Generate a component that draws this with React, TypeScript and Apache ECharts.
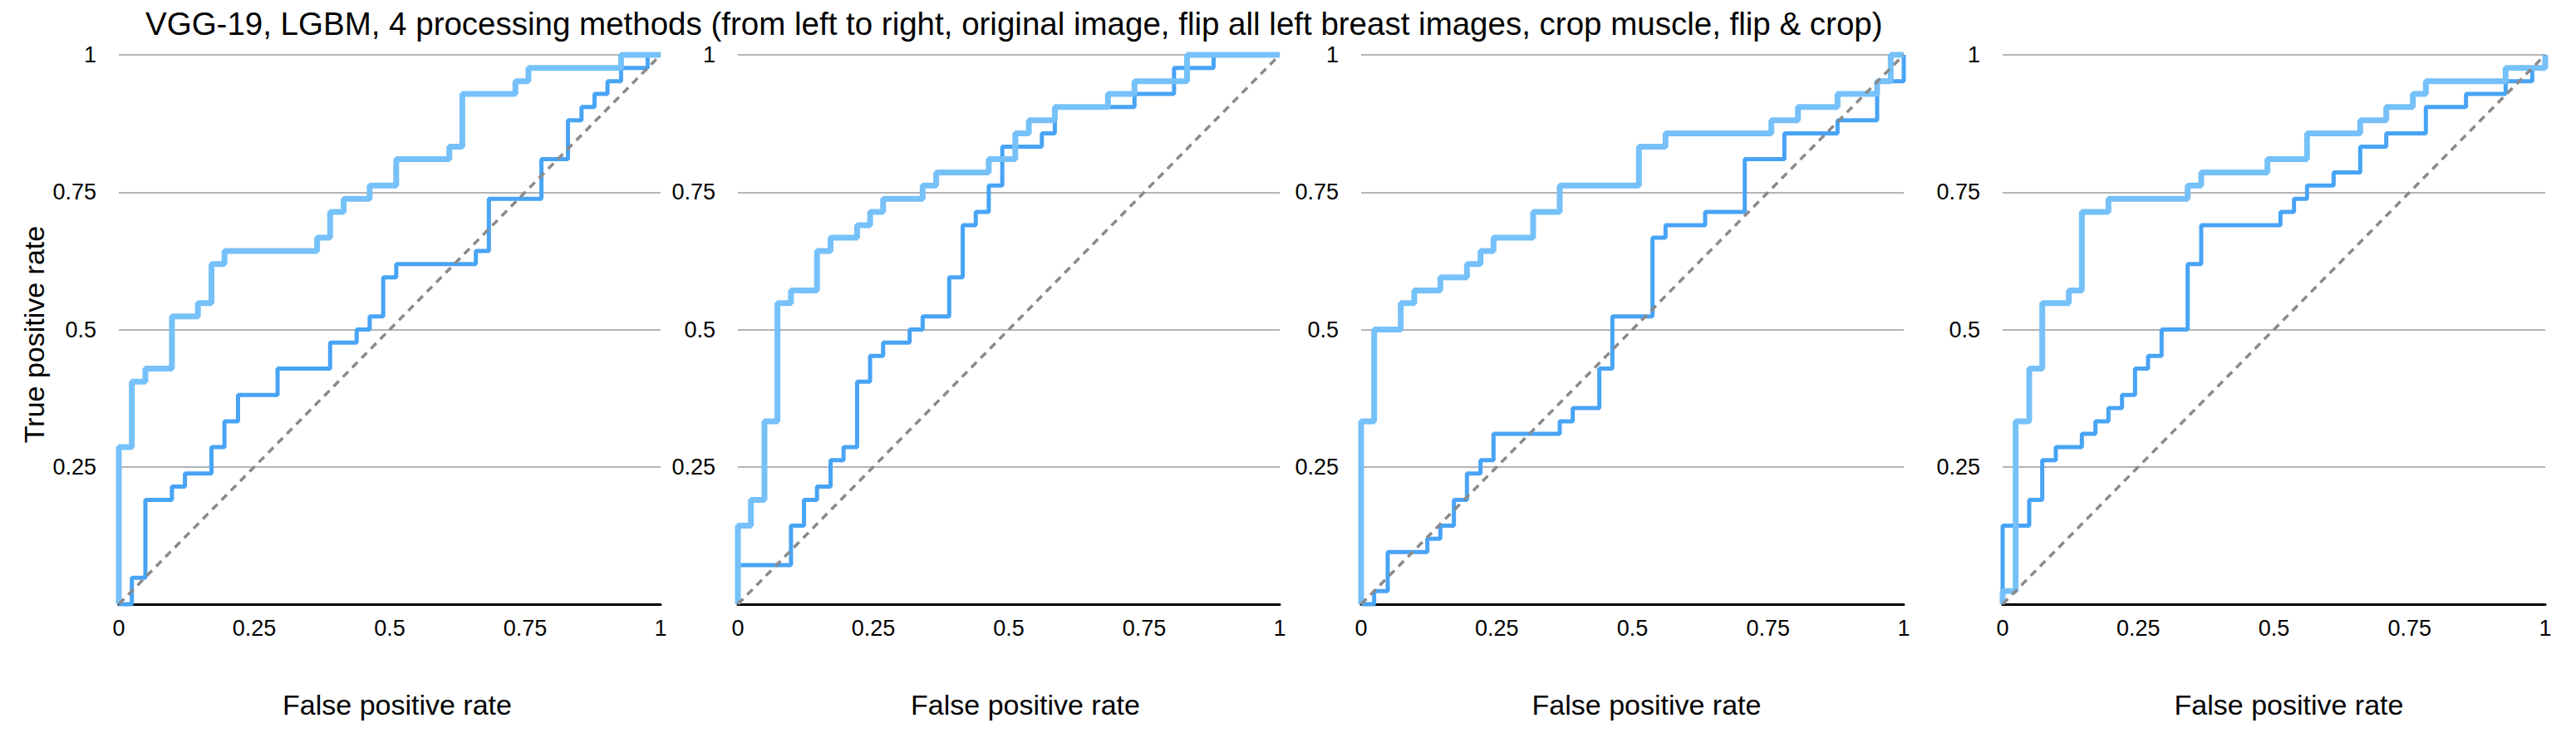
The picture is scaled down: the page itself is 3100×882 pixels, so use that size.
import React, { useEffect, useRef } from 'react';
import * as echarts from 'echarts';

const TITLE =
  'VGG-19, LGBM, 4 processing methods (from left to right, original image, flip all left breast images, crop muscle, flip & crop)';
const X_NAME = 'False positive rate';
const Y_NAME = 'True positive rate';

// Each curve: at fpr[i] the curve rises to tpr[i]
const P1_LIGHT_FPR = [0, 0.024, 0.049, 0.098, 0.146, 0.171, 0.195, 0.366, 0.39, 0.415, 0.463, 0.512, 0.61, 0.634, 0.732, 0.756, 0.927, 1];
const P1_LIGHT_TPR = [0.286, 0.405, 0.429, 0.524, 0.548, 0.619, 0.643, 0.667, 0.714, 0.738, 0.762, 0.81, 0.833, 0.929, 0.952, 0.976, 1, 1];
const P1_DARK_FPR = [0, 0.024, 0.049, 0.098, 0.122, 0.171, 0.195, 0.22, 0.293, 0.39, 0.439, 0.463, 0.488, 0.512, 0.659, 0.683, 0.78, 0.829, 0.854, 0.878, 0.902, 0.927, 0.976, 1];
const P1_DARK_TPR = [0, 0.048, 0.19, 0.214, 0.238, 0.286, 0.333, 0.381, 0.429, 0.476, 0.5, 0.524, 0.595, 0.619, 0.643, 0.738, 0.81, 0.881, 0.905, 0.929, 0.952, 0.976, 1, 1];

const P2_LIGHT_FPR = [0, 0.024, 0.049, 0.073, 0.098, 0.146, 0.171, 0.22, 0.244, 0.268, 0.341, 0.366, 0.463, 0.512, 0.537, 0.585, 0.683, 0.732, 0.829, 1];
const P2_LIGHT_TPR = [0.143, 0.19, 0.333, 0.548, 0.571, 0.643, 0.667, 0.69, 0.714, 0.738, 0.762, 0.786, 0.81, 0.857, 0.881, 0.905, 0.929, 0.952, 1, 1];
const P2_DARK_FPR = [0, 0.098, 0.122, 0.146, 0.171, 0.195, 0.22, 0.244, 0.268, 0.317, 0.341, 0.39, 0.415, 0.439, 0.463, 0.488, 0.561, 0.585, 0.732, 0.805, 0.878, 1];
const P2_DARK_TPR = [0.071, 0.143, 0.19, 0.214, 0.262, 0.286, 0.405, 0.452, 0.476, 0.5, 0.524, 0.595, 0.69, 0.714, 0.762, 0.833, 0.857, 0.905, 0.929, 0.976, 1, 1];

const P3_LIGHT_FPR = [0, 0.024, 0.073, 0.098, 0.146, 0.195, 0.22, 0.244, 0.317, 0.366, 0.512, 0.561, 0.756, 0.805, 0.878, 0.951, 0.976, 1];
const P3_LIGHT_TPR = [0.333, 0.5, 0.548, 0.571, 0.595, 0.619, 0.643, 0.667, 0.714, 0.762, 0.833, 0.857, 0.881, 0.905, 0.929, 0.952, 1, 1];
const P3_DARK_FPR = [0, 0.024, 0.049, 0.122, 0.146, 0.171, 0.195, 0.22, 0.244, 0.366, 0.39, 0.439, 0.463, 0.537, 0.561, 0.634, 0.707, 0.78, 0.878, 0.951, 1];
const P3_DARK_TPR = [0, 0.024, 0.095, 0.119, 0.143, 0.19, 0.238, 0.262, 0.31, 0.333, 0.357, 0.429, 0.524, 0.667, 0.69, 0.714, 0.81, 0.857, 0.881, 0.952, 1];

const P4_LIGHT_FPR = [0, 0.024, 0.049, 0.073, 0.122, 0.146, 0.195, 0.341, 0.366, 0.488, 0.561, 0.659, 0.707, 0.756, 0.78, 0.927, 1];
const P4_LIGHT_TPR = [0.024, 0.333, 0.429, 0.548, 0.571, 0.714, 0.738, 0.762, 0.786, 0.81, 0.857, 0.881, 0.905, 0.929, 0.952, 0.976, 1];
const P4_DARK_FPR = [0, 0.049, 0.073, 0.098, 0.146, 0.171, 0.195, 0.22, 0.244, 0.268, 0.293, 0.341, 0.366, 0.512, 0.537, 0.561, 0.61, 0.659, 0.707, 0.78, 0.854, 0.927, 0.976, 1];
const P4_DARK_TPR = [0.143, 0.19, 0.262, 0.286, 0.31, 0.333, 0.357, 0.381, 0.429, 0.452, 0.5, 0.619, 0.69, 0.714, 0.738, 0.762, 0.786, 0.833, 0.857, 0.905, 0.929, 0.952, 0.976, 1];

const DIAG_X = [0, 1];
const DIAG_Y = [0, 1];

const PANELS = [
  { light: [P1_LIGHT_FPR, P1_LIGHT_TPR], dark: [P1_DARK_FPR, P1_DARK_TPR] },
  { light: [P2_LIGHT_FPR, P2_LIGHT_TPR], dark: [P2_DARK_FPR, P2_DARK_TPR] },
  { light: [P3_LIGHT_FPR, P3_LIGHT_TPR], dark: [P3_DARK_FPR, P3_DARK_TPR] },
  { light: [P4_LIGHT_FPR, P4_LIGHT_TPR], dark: [P4_DARK_FPR, P4_DARK_TPR] },
];

// layout (pixels)
const GRID_LEFT = [143, 888, 1638, 2410];
const GRID_WIDTH = [652, 652, 653, 653];
const GRID_TOP = 66;
const GRID_HEIGHT = 661;
const XNAME_SHIFT = [9, 20, 17, 18];

const FONT = "'Liberation Sans', Arial, Helvetica, sans-serif";
const LIGHT = '#76C1F9';
const DARK = '#48A4F5';

function stepPoints(fpr: number[], tpr: number[]) {
  const pts: number[][] = [[0, 0]];
  let prev = 0;
  for (let i = 0; i < fpr.length; i++) {
    pts.push([fpr[i], prev]);
    pts.push([fpr[i], tpr[i]]);
    prev = tpr[i];
  }
  return pts;
}

export default function App() {
  const ref = useRef<HTMLDivElement>(null);
  useEffect(() => {
    if (!ref.current) return;
    const chart = echarts.init(ref.current, undefined, { renderer: 'svg' });
    const grids: any[] = [];
    const xAxes: any[] = [];
    const yAxes: any[] = [];
    const series: any[] = [];
    PANELS.forEach((p, i) => {
      grids.push({ left: GRID_LEFT[i], top: GRID_TOP, width: GRID_WIDTH[i], height: GRID_HEIGHT, containLabel: false });
      xAxes.push({
        gridIndex: i,
        type: 'value',
        min: 0,
        max: 1,
        interval: 0.25,
        name: X_NAME,
        nameLocation: 'middle',
        nameGap: 104,
        nameTextStyle: { fontFamily: FONT, fontSize: 34, color: '#000', padding: [0, 0, 0, XNAME_SHIFT[i] * 2] },
        axisLine: { show: true, lineStyle: { color: '#000', width: 3 } },
        axisTick: { show: false },
        splitLine: { show: false },
        axisLabel: { fontFamily: FONT, fontSize: 27, color: '#000', margin: 15 },
      });
      yAxes.push({
        gridIndex: i,
        type: 'value',
        min: 0,
        max: 1,
        interval: 0.25,
        name: i === 0 ? Y_NAME : '',
        nameLocation: 'middle',
        nameGap: 85,
        nameTextStyle: { fontFamily: FONT, fontSize: 34, color: '#000', padding: [0, 12, 0, 0] },
        axisLine: { show: false },
        axisTick: { show: false },
        splitLine: { show: true, lineStyle: { color: '#b4b4b4', width: 2 } },
        axisLabel: { fontFamily: FONT, fontSize: 27, color: '#000', margin: 27, showMinLabel: false },
      });
      series.push({
        type: 'line',
        xAxisIndex: i,
        yAxisIndex: i,
        data: stepPoints(p.dark[0], p.dark[1]),
        symbol: 'none',
        clip: false,
        lineStyle: { color: DARK, width: 5 },
        z: 3,
      });
      series.push({
        type: 'line',
        xAxisIndex: i,
        yAxisIndex: i,
        data: stepPoints(p.light[0], p.light[1]),
        symbol: 'none',
        clip: false,
        lineStyle: { color: LIGHT, width: 7 },
        z: 4,
      });
      series.push({
        type: 'line',
        xAxisIndex: i,
        yAxisIndex: i,
        data: DIAG_X.map((x, k) => [x, DIAG_Y[k]]),
        symbol: 'none',
        clip: false,
        lineStyle: { color: '#8a8a8a', width: 3.5, type: [9, 7] },
        z: 5,
      });
    });
    chart.setOption({
      animation: false,
      backgroundColor: '#ffffff',
      title: {
        text: TITLE,
        left: 170,
        top: 4,
        textStyle: { fontFamily: FONT, fontSize: 38.5, fontWeight: 'normal', color: '#000' },
      },
      grid: grids,
      xAxis: xAxes,
      yAxis: yAxes,
      series,
    });
    return () => chart.dispose();
  }, []);
  return <div ref={ref} style={{ position: 'fixed', left: 0, top: 0, width: 3100, height: 882 }} />;
}
